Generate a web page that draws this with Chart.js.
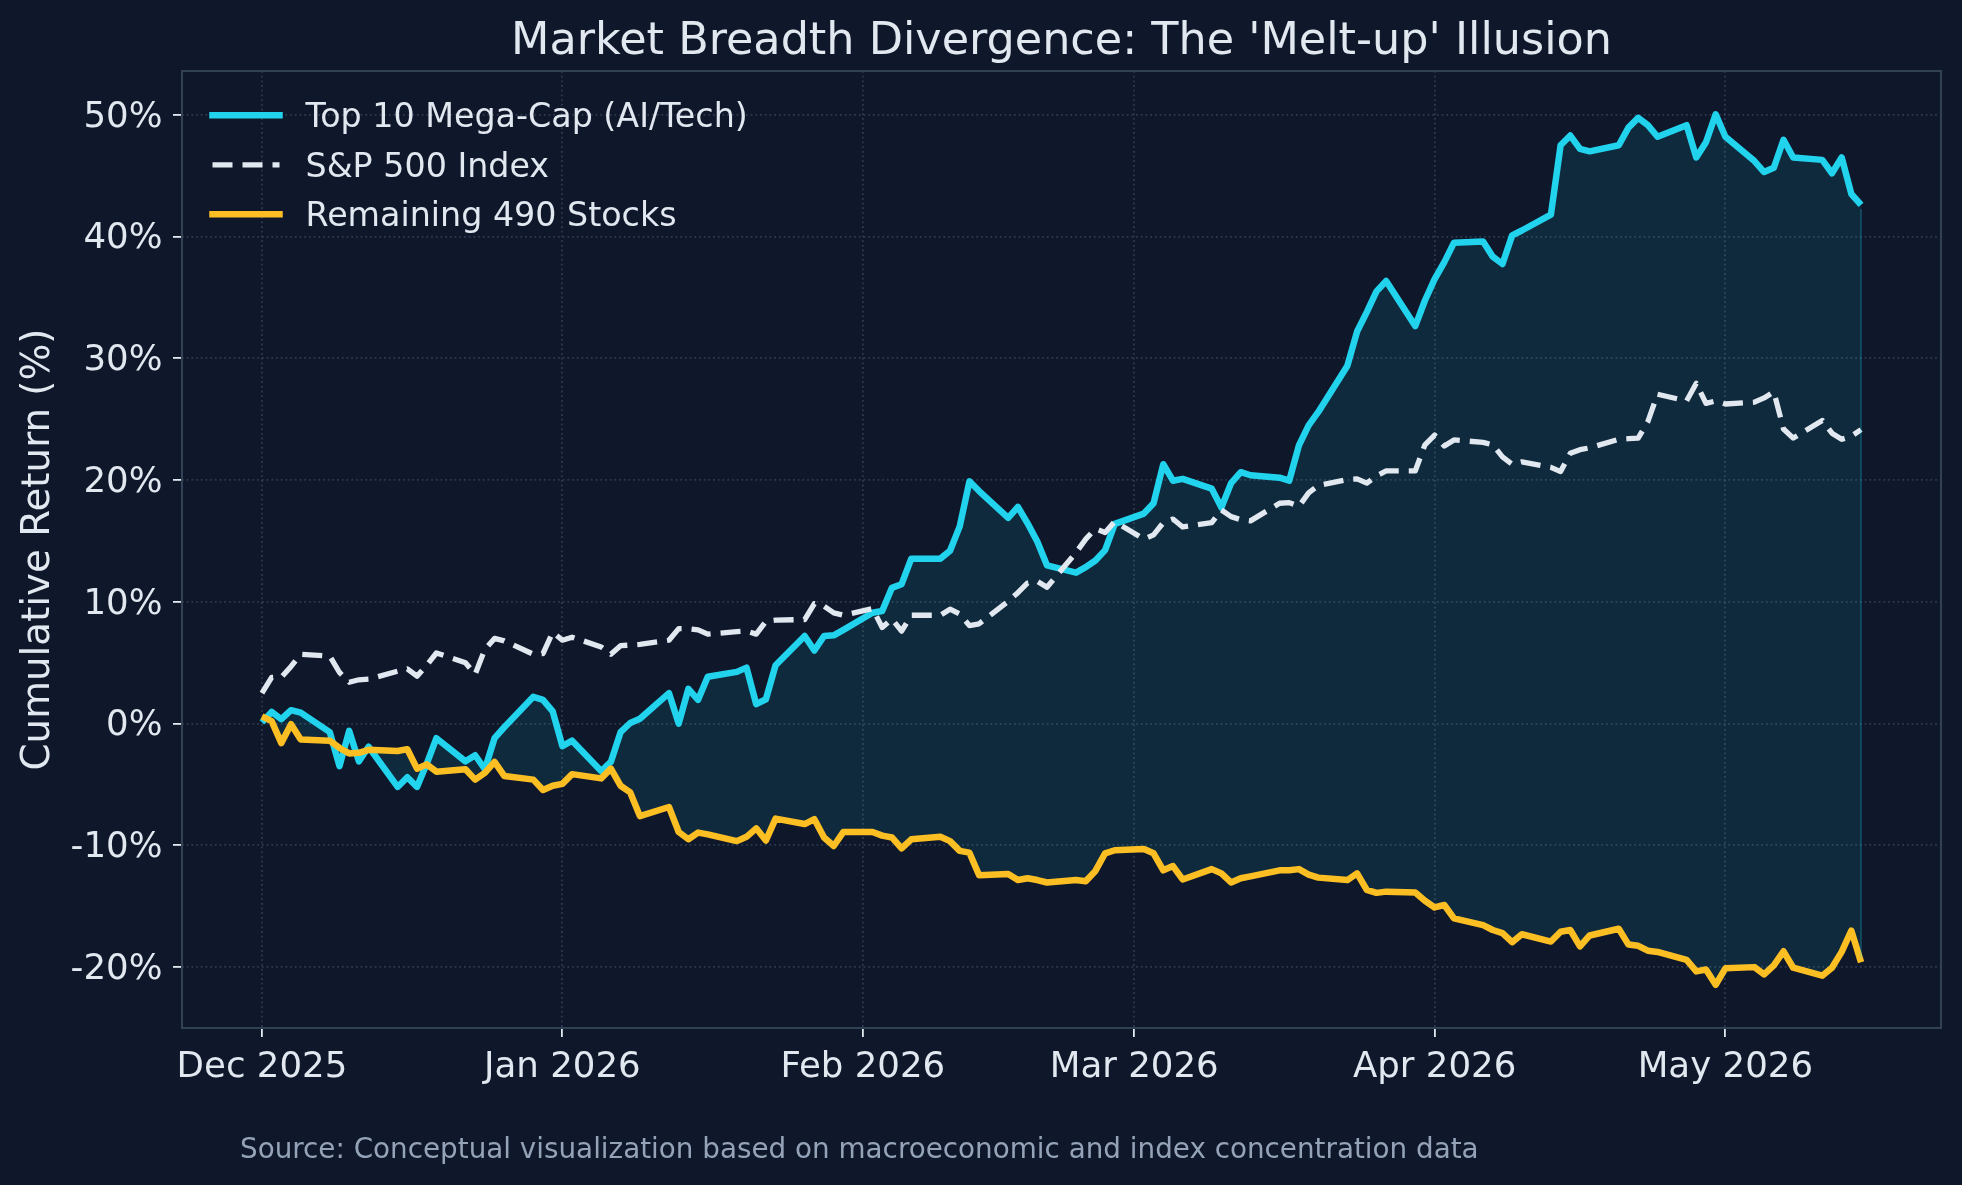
<!DOCTYPE html>
<html><head><meta charset="utf-8">
<script src="https://cdn.jsdelivr.net/npm/chart.js@4.4.1/dist/chart.umd.min.js"></script>
<style>
html,body{margin:0;padding:0;background:#0f172a;}
canvas{display:block;}
</style></head><body>
<canvas id="c" width="1962" height="1185"></canvas>
<script>
// ---------- DATA ----------
const chartTitle = "Market Breadth Divergence: The 'Melt-up' Illusion";
const yAxisTitle = "Cumulative Return (%)";
const sourceNote = "Source: Conceptual visualization based on macroeconomic and index concentration data";
const seriesNames = ["Top 10 Mega-Cap (AI/Tech)", "S&P 500 Index", "Remaining 490 Stocks"];

const tradingDates = [
  '2025-12-01','2025-12-02','2025-12-03','2025-12-04','2025-12-05',
  '2025-12-08','2025-12-09','2025-12-10','2025-12-11','2025-12-12',
  '2025-12-15','2025-12-16','2025-12-17','2025-12-18','2025-12-19',
  '2025-12-22','2025-12-23','2025-12-24','2025-12-25','2025-12-26',
  '2025-12-29','2025-12-30','2025-12-31',
  '2026-01-01','2026-01-02',
  '2026-01-05','2026-01-06','2026-01-07','2026-01-08','2026-01-09',
  '2026-01-12','2026-01-13','2026-01-14','2026-01-15','2026-01-16',
  '2026-01-19','2026-01-20','2026-01-21','2026-01-22','2026-01-23',
  '2026-01-26','2026-01-27','2026-01-28','2026-01-29','2026-01-30',
  '2026-02-02','2026-02-03','2026-02-04','2026-02-05','2026-02-06',
  '2026-02-09','2026-02-10','2026-02-11','2026-02-12','2026-02-13',
  '2026-02-16','2026-02-17','2026-02-18','2026-02-19','2026-02-20',
  '2026-02-23','2026-02-24','2026-02-25','2026-02-26','2026-02-27',
  '2026-03-02','2026-03-03','2026-03-04','2026-03-05','2026-03-06',
  '2026-03-09','2026-03-10','2026-03-11','2026-03-12','2026-03-13',
  '2026-03-16','2026-03-17','2026-03-18','2026-03-19','2026-03-20',
  '2026-03-23','2026-03-24','2026-03-25','2026-03-26','2026-03-27',
  '2026-03-30','2026-03-31',
  '2026-04-01','2026-04-02','2026-04-03',
  '2026-04-06','2026-04-07','2026-04-08','2026-04-09','2026-04-10',
  '2026-04-13','2026-04-14','2026-04-15','2026-04-16','2026-04-17',
  '2026-04-20','2026-04-21','2026-04-22','2026-04-23','2026-04-24',
  '2026-04-27','2026-04-28','2026-04-29','2026-04-30',
  '2026-05-01',
  '2026-05-04','2026-05-05','2026-05-06','2026-05-07','2026-05-08',
  '2026-05-11','2026-05-12','2026-05-13','2026-05-14','2026-05-15'
];

const top10 = [
  0.1, 0.96, 0.36, 1.1, 0.9, -0.7, -3.5, -0.6, -3.1, -1.9, -5.2, -4.4, -5.2, -3.3, -1.2, -3.1, -2.6, -3.75, -1.2, -0.3, 2.2, 1.95, 1.0,
  -1.85, -1.4, -3.9, -3.15, -0.7, 0.05, 0.4, 2.5, 0.0, 2.85, 1.95, 3.85, 4.25, 4.6, 1.6, 2.0, 4.8, 7.2, 6.0, 7.2, 7.25, 7.7,
  9.1, 9.25, 11.15, 11.45, 13.55, 13.55, 14.2, 16.2, 19.9, 19.1, 16.9, 17.8, 16.45, 14.95, 13.0, 12.4, 12.85, 13.4, 14.25, 16.4,
  17.25, 18.1, 21.3, 19.95, 20.1, 19.3, 17.75, 19.75, 20.65, 20.4, 20.2, 19.95, 22.85, 24.5, 25.6, 29.4, 32.2, 33.8, 35.5, 36.35, 32.65, 34.75,
  36.5, 37.9, 39.5, 39.6, 38.35, 37.75, 40.1, 40.5, 41.8, 47.5, 48.3, 47.2, 47.0, 47.5, 48.95, 49.75, 49.15, 48.2, 49.15, 46.5, 47.75, 50.05,
  48.2, 46.2, 45.3, 45.65, 47.95, 46.5, 46.3, 45.2, 46.5, 43.5, 42.6
];

const sp500 = [
  2.5, 3.8, 3.8, 4.7, 5.7, 5.55, 4.2, 3.4, 3.6, 3.65, 4.3, 4.5, 3.9, 4.8, 5.8, 5.0, 4.05, 6.1, 7.0, 6.8, 5.7, 5.75, 7.5,
  6.85, 7.1, 6.3, 5.7, 6.4, 6.45, 6.5, 6.85, 7.8, 7.8, 7.7, 7.35, 7.55, 7.6, 7.35, 8.4, 8.5, 8.55, 9.85, 9.65, 9.1, 8.9,
  9.45, 7.9, 8.6, 7.6, 8.9, 8.9, 9.4, 9.0, 8.05, 8.2, 10.05, 10.75, 11.55, 11.7, 11.2, 14.05, 15.15, 16.0, 15.7, 16.6,
  15.15, 15.5, 16.5, 16.8, 16.15, 16.5, 17.55, 17.0, 16.75, 16.65, 18.1, 18.15, 17.85, 18.95, 19.55, 20.05, 20.1, 19.75, 20.35, 20.75, 20.75, 22.9,
  23.7, 22.8, 23.3, 23.1, 22.9, 21.9, 21.3, 21.5, 21.05, 20.7, 22.2, 22.5, 22.65, 23.35, 23.4, 23.45, 24.8, 27.05, 26.5, 27.95, 26.3, 26.5,
  26.25, 26.4, 26.75, 27.25, 24.2, 23.45, 24.9, 23.85, 23.35, 23.6, 24.15
];

const rest490 = [
  0.6, 0.2, -1.6, -0.05, -1.3, -1.4, -2.0, -2.45, -2.4, -2.15, -2.25, -2.1, -3.7, -3.35, -3.95, -3.75, -4.6, -4.05, -3.15, -4.3, -4.6, -5.45, -5.1,
  -4.95, -4.15, -4.5, -3.7, -5.1, -5.65, -7.6, -6.85, -8.9, -9.5, -8.95, -9.1, -9.65, -9.3, -8.6, -9.6, -7.8, -8.25, -7.85, -9.35, -10.05, -8.9,
  -8.9, -9.2, -9.35, -10.25, -9.5, -9.3, -9.65, -10.45, -10.6, -12.45, -12.35, -12.85, -12.7, -12.85, -13.05, -12.85, -12.95, -12.1, -10.65, -10.4,
  -10.3, -10.65, -12.05, -11.7, -12.8, -11.95, -12.3, -13.05, -12.7, -12.55, -12.05, -12.05, -11.95, -12.4, -12.65, -12.85, -12.3, -13.65, -13.9, -13.8, -13.87, -14.55,
  -15.1, -14.9, -16.0, -16.55, -16.95, -17.2, -17.95, -17.3, -17.9, -17.1, -16.95, -18.3, -17.4, -16.85, -18.15, -18.25, -18.65, -18.75, -19.4, -20.35, -20.2, -21.45,
  -20.1, -20.0, -20.6, -19.85, -18.7, -20.05, -20.7, -20.05, -18.75, -17.0, -19.6
];

const monthTickDates = ['2025-12-01','2026-01-01','2026-02-01','2026-03-01','2026-04-01','2026-05-01'];
const monthTickLabels = ['Dec 2025','Jan 2026','Feb 2026','Mar 2026','Apr 2026','May 2026'];
const yTickValues = [-20, -10, 0, 10, 20, 30, 40, 50];

// ---------- HELPERS ----------
const FONT = "'DejaVu Sans', 'Liberation Sans', sans-serif";
const dayOffset = s => (Date.UTC(+s.slice(0,4), +s.slice(5,7) - 1, +s.slice(8,10)) - Date.UTC(2025, 11, 1)) / 86400000;
const xs = tradingDates.map(dayOffset);
const pts = vals => vals.map((v, i) => ({x: xs[i], y: v}));
const xSpan = xs[xs.length - 1] - xs[0];

const bgPlugin = {
  id: 'bg',
  beforeDraw(chart) {
    const c = chart.ctx;
    c.save();
    c.fillStyle = '#0f172a';
    c.fillRect(0, 0, chart.width, chart.height);
    c.restore();
  }
};

const decorPlugin = {
  id: 'decor',
  afterDatasetsDraw(chart) {
    const c = chart.ctx;
    const xsc = chart.scales.x, ysc = chart.scales.y;
    const n = xs.length - 1;
    // edge of the shaded gap at the last date
    c.save();
    c.strokeStyle = 'rgba(34,211,238,0.22)';
    c.lineWidth = 2;
    c.beginPath();
    const xe = xsc.getPixelForValue(xs[n]);
    c.moveTo(xe, ysc.getPixelForValue(top10[n]) + 4);
    c.lineTo(xe, ysc.getPixelForValue(rest490[n]) - 4);
    c.stroke();
    c.restore();
  },
  afterDraw(chart) {
    const c = chart.ctx, a = chart.chartArea;
    c.save();
    // frame
    c.strokeStyle = '#334155';
    c.lineWidth = 2;
    c.strokeRect(a.left, a.top, a.right - a.left, a.bottom - a.top);
    // title
    c.fillStyle = '#e2e8f0';
    c.font = '44.5px ' + FONT;
    c.textAlign = 'center';
    c.textBaseline = 'alphabetic';
    c.fillText(chartTitle, (a.left + a.right) / 2, 53.5);
    // legend
    const colors = ['#22d3ee', '#e2e8f0', '#fbbf24'];
    const widths = [6.5, 5.3, 6.5];
    const dashes = [[], [20, 10], []];
    for (let i = 0; i < 3; i++) {
      const yy = 115.3 + i * 49.5;
      c.beginPath();
      c.strokeStyle = colors[i];
      c.lineWidth = widths[i];
      c.setLineDash(dashes[i]);
      c.lineCap = dashes[i].length ? 'butt' : 'square';
      c.moveTo(a.left + 30.5, yy);
      c.lineTo(a.left + 97.5, yy);
      c.stroke();
      c.setLineDash([]);
      c.fillStyle = '#e2e8f0';
      c.font = '33.3px ' + FONT;
      c.textAlign = 'left';
      c.fillText(seriesNames[i], a.left + 123.5, yy + 11.7);
    }
    // source
    c.fillStyle = '#94a3b8';
    c.font = '27.8px ' + FONT;
    c.textAlign = 'left';
    c.fillText(sourceNote, 240, 1158);
    c.restore();
  }
};

const gridCommon = {
  color: 'rgba(71,85,105,0.55)',
  lineWidth: 1.8,
  tickColor: '#e2e8f0',
  tickLength: 9,
  tickWidth: 1.8,
  drawTicks: true
};

new Chart(document.getElementById('c'), {
  type: 'line',
  data: {
    datasets: [
      {label: seriesNames[0], data: pts(top10), borderColor: '#22d3ee', borderWidth: 6.5,
       pointRadius: 0, tension: 0, borderJoinStyle: 'round',
       fill: {target: 2}, backgroundColor: 'rgba(34,211,238,0.10)', order: 3},
      {label: seriesNames[1], data: pts(sp500), borderColor: '#e2e8f0', borderWidth: 5.3,
       borderDash: [20, 10], pointRadius: 0, tension: 0, borderJoinStyle: 'round', fill: false, order: 2},
      {label: seriesNames[2], data: pts(rest490), borderColor: '#fbbf24', borderWidth: 6.5,
       pointRadius: 0, tension: 0, borderJoinStyle: 'round', fill: false, order: 1}
    ]
  },
  options: {
    responsive: false,
    animation: false,
    devicePixelRatio: 1,
    layout: {padding: {top: 71, right: 21, left: 0, bottom: 0}},
    plugins: {
      legend: {display: false},
      title: {display: false},
      tooltip: {enabled: false},
      filler: {drawTime: 'beforeDatasetsDraw'}
    },
    scales: {
      x: {
        type: 'linear',
        min: xs[0] - 0.05 * xSpan,
        max: xs[xs.length - 1] + 0.05 * xSpan,
        afterBuildTicks: s => { s.ticks = monthTickDates.map(d => ({value: dayOffset(d)})); },
        afterFit: s => { s.height = 157; },
        ticks: {
          callback: (v, i) => monthTickLabels[i],
          font: {family: FONT, size: 35.6},
          color: '#e2e8f0',
          padding: 9,
          maxRotation: 0,
          autoSkip: false
        },
        grid: gridCommon,
        border: {display: false, dash: [1.8, 2.9]}
      },
      y: {
        type: 'linear',
        min: -25.0,
        max: 53.6,
        afterBuildTicks: s => { s.ticks = yTickValues.map(v => ({value: v})); },
        afterFit: s => { s.width = 182; },
        ticks: {
          callback: v => v + '%',
          font: {family: FONT, size: 35.6},
          color: '#e2e8f0',
          padding: 10.5,
          labelOffset: 2.5
        },
        title: {
          display: true,
          text: yAxisTitle,
          font: {family: FONT, size: 38.8},
          color: '#e2e8f0',
          padding: {top: 16, bottom: 0}
        },
        grid: gridCommon,
        border: {display: false, dash: [1.8, 2.9]}
      }
    }
  },
  plugins: [bgPlugin, decorPlugin]
});
</script>
</body></html>
